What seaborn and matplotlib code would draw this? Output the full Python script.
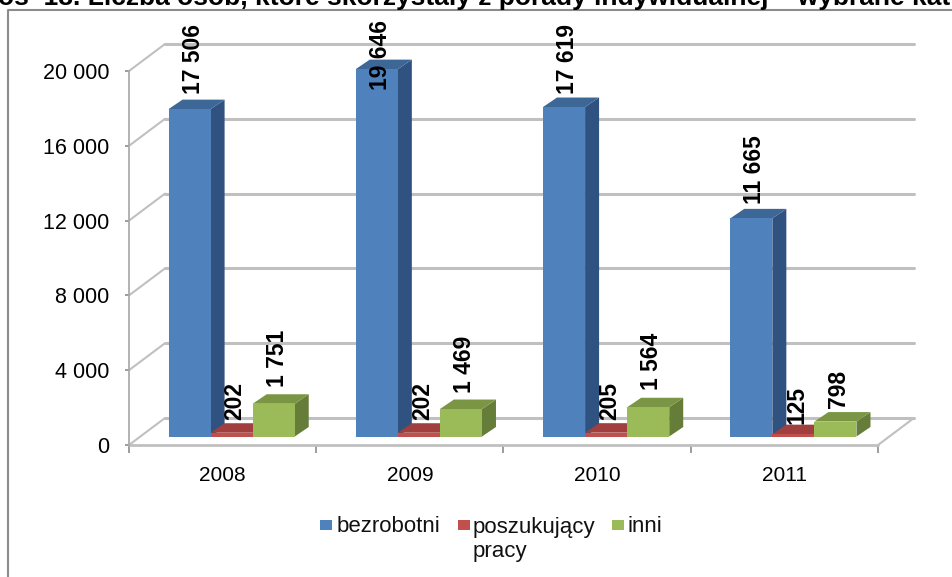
import matplotlib
matplotlib.use("Agg")
from matplotlib import pyplot as plt
from matplotlib.lines import Line2D
from matplotlib.patches import Polygon, Rectangle
import seaborn as sns
import pandas as pd

W, H = 953, 577

years = ["2008", "2009", "2010", "2011"]
bezrobotni = [17506, 19646, 17619, 11665]
poszukujacy = [202, 202, 205, 125]
inni = [1751, 1469, 1564, 798]
y_ticks = [0, 4000, 8000, 12000, 16000, 20000]
y_labels = ["0", "4 000", "8 000", "12 000", "16 000", "20 000"]
label_text = ["17 506", "19 646", "17 619", "11 665", "202", "202", "205", "125", "1 751", "1 469", "1 564", "798"]
# gap between bar top and label, px (the labels were moved by hand in the original)
label_gap = [15, -21, 13, 14, 13, 13, 13, 10, 17, 16, 17, 14]
series = ["bezrobotni", "poszukujący pracy", "inni"]
front = ["#4f81bd", "#c0504d", "#9bbb59"]
side = ["#2f5280", "#7f3230", "#667d39"]
top = ["#3d6796", "#a03f3d", "#7a9645"]

sns.set_theme(style="white")
plt.rcParams['font.family'] = ['Liberation Sans', 'DejaVu Sans']

df = pd.DataFrame({
    "year": years * 3,
    "value": bezrobotni + poszukujacy + inni,
    "series": [series[0]] * 4 + [series[1]] * 4 + [series[2]] * 4,
})

fig = plt.figure(figsize=(W / 100, H / 100), dpi=100)
# plot area in pixels
left, right, y0, y20k = 129, 878, 445, 71
ax = fig.add_axes([left / W, 1 - y0 / H, (right - left) / W, (y0 - y20k) / H])

sns.barplot(data=df, x="year", y="value", hue="series", hue_order=series, order=years,
            palette=front, width=0.674, gap=0, saturation=1, legend=False, ax=ax, zorder=5,
            edgecolor="none", linewidth=0)
ax.set_xlim(-0.5, 3.5)
ax.set_ylim(0, 20000)
ax.set_xlabel("")
ax.set_ylabel("")

px_x = 4 / (right - left)
px_y = 20000 / (y0 - y20k)
wall_dx, wall_dy = 36 * px_x, 27 * px_y
bar_dx, bar_dy = 9 * px_x, 8.5 * px_y
depth_x, depth_y = 14 * px_x, 9.5 * px_y
grid_col = "#c0c0c0"

# back wall and floor
for v in y_ticks:
    ax.plot([-0.5 + wall_dx, 3.5 + wall_dx], [v + wall_dy, v + wall_dy], color=grid_col, lw=2.2, clip_on=False, zorder=1)
    ax.plot([-0.5, -0.5 + wall_dx], [v, v + wall_dy], color=grid_col, lw=1.5, clip_on=False, zorder=1)
ax.plot([3.5, 3.5 + wall_dx], [0, wall_dy], color=grid_col, lw=1.5, clip_on=False, zorder=1)
ax.plot([-0.5, 3.5], [0, 0], color=grid_col, lw=2, clip_on=False, zorder=2)

for s in ax.spines.values():
    s.set_visible(False)
ax.spines["left"].set_visible(True)
ax.spines["left"].set_color("#a6a6a6")
ax.spines["left"].set_linewidth(1.2)

ax.set_yticks(y_ticks)
ax.set_yticklabels(y_labels, fontsize=15.5, color="black")
ax.set_xticks([-0.5, 0.5, 1.5, 2.5, 3.5], minor=True)
ax.set_xticks(range(4))
ax.set_xticklabels(years, fontsize=15, color="black")
ax.tick_params(axis="y", length=3, width=1.2, color="#8c8c8c", left=True, pad=11)
ax.tick_params(axis="x", which="major", length=0, pad=15)
ax.tick_params(axis="x", which="minor", length=6, width=1.2, color="#8c8c8c", bottom=True)

# give the flat seaborn bars their 3d look
for i, container in enumerate(ax.containers):
    for j, bar in enumerate(container):
        bar.set_x(bar.get_x() + bar_dx)
        bar.set_y(bar_dy)
        bar.set_clip_on(False)
        x0, x1 = bar.get_x(), bar.get_x() + bar.get_width()
        b, t = bar.get_y(), bar.get_y() + bar.get_height()
        ax.add_patch(Polygon([(x1, b), (x1 + depth_x, b + depth_y), (x1 + depth_x, t + depth_y), (x1, t)],
                             facecolor=side[i], edgecolor="none", clip_on=False, zorder=4))
        ax.add_patch(Polygon([(x0, t), (x0 + depth_x, t + depth_y), (x1 + depth_x, t + depth_y), (x1, t)],
                             facecolor=top[i], edgecolor="none", clip_on=False, zorder=4))

# value labels
k = 0
for i, container in enumerate(ax.containers):
    for bar in container:
        ax.text(bar.get_x() + bar.get_width() / 2 + 3.5 * px_x, bar.get_y() + bar.get_height() + label_gap[k] * px_y,
                label_text[k], rotation=90, ha="center", va="bottom", fontsize=16.5,
                fontweight="bold", color="black", clip_on=False, zorder=7)
        k += 1

# outer frame of the chart, cropped by the image
fig.add_artist(Line2D([8 / W, 8 / W, 1], [0, 1 - 9.5 / H, 1 - 9.5 / H], transform=fig.transFigure,
                      color="#8c8c8c", lw=1.5))

fig.text(-2 / W, 1 - 5 / H, "os  18. Liczba osób, które skorzystały z porady indywidualnej – wybrane kat",
         ha="left", va="baseline", fontsize=19, fontweight="bold", color="black")

# legend
box_x = [320, 458, 612]
text_x = [337, 473, 628]
ly = 526
names = ["bezrobotni", "poszukujący", "inni"]
for i in range(3):
    fig.add_artist(Rectangle((box_x[i] / W, 1 - (ly + 4) / H), 12 / W, 10 / H, transform=fig.transFigure,
                             facecolor=front[i], edgecolor="none"))
    fig.text(text_x[i] / W, 1 - (ly + 1) / H, names[i], ha="left", va="center", fontsize=16, color="#111111")
fig.text(text_x[1] / W, 1 - (ly + 26) / H, "pracy", ha="left", va="center", fontsize=16, color="#111111")

plt.savefig("out.png", dpi=100)
plt.close(fig)
